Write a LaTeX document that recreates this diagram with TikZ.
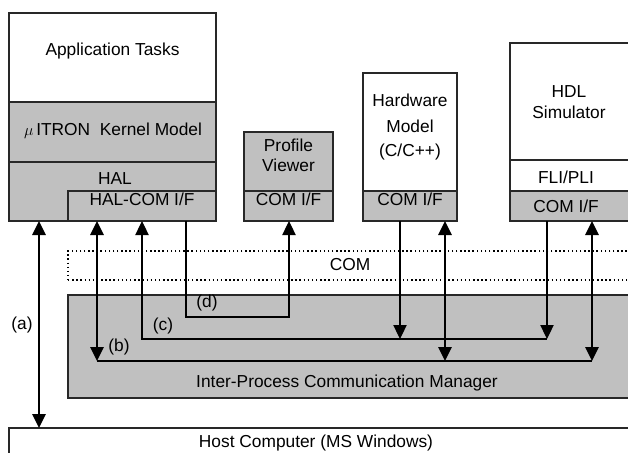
\documentclass[tikz,border=0pt]{standalone}
\usepackage{fontspec}
\setmainfont{Liberation Sans}
\usetikzlibrary{arrows.meta,fit}
\definecolor{boxgray}{RGB}{192,192,192}
\definecolor{edge}{RGB}{40,40,40}
\begin{document}
\begin{tikzpicture}[x=0.75pt,y=-0.75pt,
  box/.style={draw=edge,line width=0.8pt,inner sep=0pt,font=\fontsize{13}{15.5}\selectfont,align=center},
  white/.style={box,fill=white},
  grey/.style={box,fill=boxgray},
  dotbox/.style={draw=black,line width=1.1pt,dotted,inner sep=0pt},
  lbl/.style={font=\fontsize{13}{15.5}\selectfont,inner sep=0pt,align=center},
  thin/.style={draw=black,line width=0.8pt},
  thk/.style={draw=black,line width=1.5pt},
  tip/.style={{Triangle[length=10.5pt,width=10pt]}-{Triangle[length=10.5pt,width=10pt]}},
  uptip/.style={{Triangle[length=10.5pt,width=10pt]}-},
  dntip/.style={-{Triangle[length=10.5pt,width=10pt]}}]
\useasboundingbox (0,0) rectangle (628,453);
\clip (0,0) rectangle (628,453);
% left stack
\node[white,fit={(9,13) (216,102)}] (app) {Application Tasks};
\node[grey,fit={(9,102) (216,162)}] (kern) {};
\node[lbl] (kernt) at (113,131) {$\mu$\,ITRON\ \ Kernel Model};
\node[grey,fit={(9,162) (216,221)}] (hal) {};
\node[lbl] (halt) at (115,179) {HAL};
\node[grey,fit={(68,191) (216,221)}] (halcom) {HAL-COM I/F};
% profile viewer
\node[grey,fit={(244,132) (333,191)}] (prof) {Profile\\Viewer};
\node[grey,fit={(244,191) (333,221)}] (profcom) {COM I/F};
% hardware model
\node[white,fit={(363,73) (457,191)}] (hw) {};
\node[lbl] (hwt) at (410,127) {Hardware\\[4pt]Model\\[3pt](C/C++)};
\node[grey,fit={(363,191) (457,221)}] (hwcom) {COM I/F};
% HDL simulator
\node[white,fit={(510,43) (640,160)}] (hdl) {};
\node[lbl] (hdlt) at (569,102) {HDL\\Simulator};
\node[white,fit={(510,160) (640,191)}] (fli) {};
\node[lbl] (flit) at (566,177) {FLI/PLI};
\node[grey,fit={(510,191) (640,221)}] (hdlcom) {};
\node[lbl] (hdlcomt) at (566,206) {COM I/F};
% COM layer
\node[dotbox,fit={(68,251) (645,280)}] (com) {};
\node[lbl] (comt) at (350,265) {COM};
% IPC manager
\node[grey,fit={(68,295) (645,398)}] (ipc) {};
\node[lbl] (ipct) at (347,383) {Inter-Process Communication Manager};
% host
\node[white,fit={(9,428) (645,465)}] (host) {};
\node[lbl] (hostt) at (316,443) {Host Computer (MS Windows)};
% coordinates
\coordinate (a1) at (39,221); \coordinate (a2) at (39,428);
\coordinate (b1t) at (97,221); \coordinate (b1b) at (97,361);
\coordinate (b2t) at (445,221); \coordinate (b2b) at (445,361);
\coordinate (b3t) at (592,221); \coordinate (b3b) at (592,361);
\coordinate (c1t) at (142,221); \coordinate (c1b) at (142,339);
\coordinate (c2t) at (400,221); \coordinate (c2b) at (400,339);
\coordinate (c3t) at (547,221); \coordinate (c3b) at (547,339);
\coordinate (d1t) at (186,221); \coordinate (d1b) at (186,317);
\coordinate (d2t) at (289,221); \coordinate (d2b) at (289,317);
% (a)
\draw[thk,tip] (a1) -- (a2);
\node[lbl] (la) at (22,325) {(a)};
% (b)
\draw[thin] (b1b) -- (b3b);
\draw[thk,tip] (b1t) -- (b1b);
\draw[thk,tip] (b2t) -- (b2b);
\draw[thk,tip] (b3t) -- (b3b);
\node[lbl] (lb) at (119,347) {(b)};
% (c)
\draw[thin,uptip] (c1t) -- (c1b) -- (c3b);
\draw[thin,dntip] (c2t) -- (c2b);
\draw[thin,dntip] (c3t) -- (c3b);
\node[lbl] (lc) at (163,326) {(c)};
% (d)
\draw[thin,dntip] (d1t) -- (d1b) -- (d2b) -- (d2t);
\node[lbl] (ld) at (207,303) {(d)};
\end{tikzpicture}
\end{document}
